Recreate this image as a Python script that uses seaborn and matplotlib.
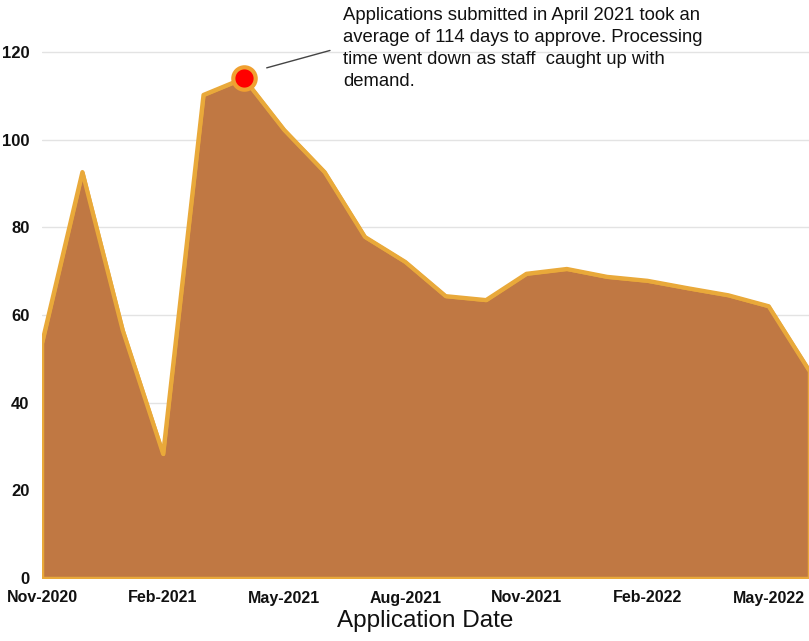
import numpy as np
import pandas as pd
import matplotlib
matplotlib.use("Agg")
import matplotlib.pyplot as plt
import seaborn as sns

months = ["Nov-2020", "Dec-2020", "Jan-2021", "Feb-2021", "Mar-2021", "Apr-2021",
          "May-2021", "Jun-2021", "Jul-2021", "Aug-2021", "Sep-2021", "Oct-2021",
          "Nov-2021", "Dec-2021", "Jan-2022", "Feb-2022", "Mar-2022", "Apr-2022",
          "May-2022", "Jun-2022"]
days = [53.6, 92.6, 56.5, 28.3, 110.2, 114.0, 102.2, 92.6, 77.8, 72.1, 64.3, 63.4,
        69.4, 70.5, 68.7, 67.8, 66.1, 64.5, 62.0, 47.4]
tick_labels = ["Nov-2020", "Feb-2021", "May-2021", "Aug-2021", "Nov-2021", "Feb-2022", "May-2022"]
y_ticks = [0, 20, 40, 60, 80, 100, 120]
highlight_month = "Apr-2021"
annotation = ("Applications submitted in April 2021 took an\n"
              "average of 114 days to approve. Processing\n"
              "time went down as staff  caught up with\n"
              "demand.")

df = pd.DataFrame({"month": months, "days": days})
df["pos"] = np.arange(len(df))

sns.set_theme(style="white")
plt.rcParams["font.family"] = ["Liberation Sans", "DejaVu Sans"]

fig = plt.figure(figsize=(8.09, 6.41), dpi=100)
ax = fig.add_axes([42 / 809, 63 / 641, 1 - 42 / 809, (578 - 30) / 641])

fill_c = "#C07843"
line_c = "#E9A93A"

ax.fill_between(df["pos"], 0, df["days"], facecolor=fill_c, edgecolor=line_c,
                linewidth=2.5, zorder=2)
sns.lineplot(data=df, x="pos", y="days", ax=ax, color=line_c, linewidth=3, zorder=3)

hi = df[df["month"] == highlight_month]
ax.scatter(hi["pos"], hi["days"], s=260, color="#FF0000", edgecolor="#F0A030",
           linewidth=3, zorder=5)

ax.set_xlim(0, len(df) - 1)
ax.set_ylim(0, 125)
ax.set_yticks(y_ticks)
ax.set_yticklabels([str(v) for v in y_ticks])
tick_pos = [months.index(t) for t in tick_labels]
ax.set_xticks(tick_pos)
ax.set_xticklabels(tick_labels)
for s in ax.spines.values():
    s.set_visible(False)
ax.yaxis.grid(True, color="#E3E3E3", linewidth=1)
ax.set_axisbelow(True)
ax.tick_params(axis="y", length=0, pad=9, labelsize=12, labelcolor="#111111")
ax.tick_params(axis="x", length=4, width=0.8, color="#DDDDDD", pad=5,
               labelsize=11.5, labelcolor="#111111")
for lab in ax.get_xticklabels() + ax.get_yticklabels():
    lab.set_fontweight("bold")
ax.set_ylabel("")
ax.set_xlabel("Application Date", fontsize=17.5, color="#111111", labelpad=3)

px = hi["pos"].iloc[0]
py = hi["days"].iloc[0]
ax.annotate(annotation, xy=(px + 0.5, py + 2.2), xytext=(343, 641 - 7),
            textcoords="figure pixels", fontsize=13.3, color="#111111",
            va="top", ha="left", linespacing=1.38, zorder=6)
ax.annotate("", xy=(px + 0.5, py + 2.2), xytext=(px + 2.2, py + 6.5),
            arrowprops=dict(arrowstyle="-", color="#444444", lw=1), zorder=6)

fig.savefig("out.png", dpi=100)
